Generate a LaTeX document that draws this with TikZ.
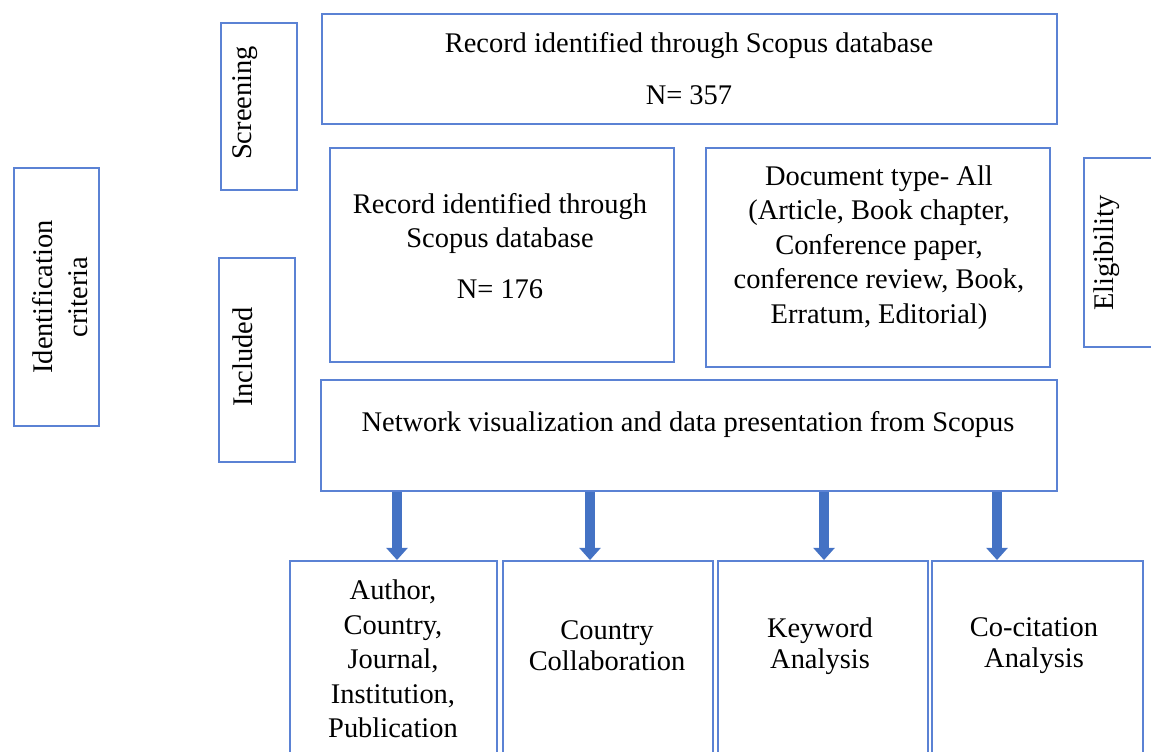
\documentclass[tikz,border=0pt]{standalone}
\usepackage{fontspec}
\setmainfont{Liberation Serif}
\usetikzlibrary{arrows.meta}
\definecolor{boxblue}{RGB}{91,130,212}
\definecolor{arrowblue}{RGB}{68,114,196}

\begin{document}
\begin{tikzpicture}[x=0.02cm,y=-0.02cm,
  box/.style={draw=boxblue,line width=1.1pt,rectangle,inner sep=0pt},
  txt/.style={align=center,inner sep=0pt,font=\fontsize{16.2}{19.7}\selectfont},
  fat/.style={draw=arrowblue,line width=6.2pt,-{Triangle[width=12pt,length=7pt]}}]
\useasboundingbox (0,0) rectangle (1151,751);

% side labels
\node[box,minimum width=1.7cm,minimum height=5.16cm] (ident) at (56.5,297) {};
\node[box,minimum width=1.52cm,minimum height=3.34cm] (screen) at (259,106.5) {};
\node[box,minimum width=1.52cm,minimum height=4.08cm] (incl) at (257,360) {};
\node[box,minimum width=1.72cm,minimum height=3.78cm] (elig) at (1127,252.5) {};

\node[txt,rotate=90] (identtxt) at (60,297) {Identification\\criteria};
\node[txt,rotate=90] (screentxt) at (245,103) {Screening};
\node[txt,rotate=90] (incltxt) at (243,357) {Included};
\node[txt,rotate=90] (eligtxt) at (1107,253) {Eligibility};

% main boxes
\node[box,minimum width=14.7cm,minimum height=2.2cm] (top) at (689.5,69) {};
\node[box,minimum width=6.88cm,minimum height=4.28cm] (rec) at (502,255) {};
\node[box,minimum width=6.88cm,minimum height=4.38cm] (doc) at (878,257.5) {};
\node[box,minimum width=14.72cm,minimum height=2.22cm] (net) at (689,435.5) {};

\node[txt] (toptxt) at (689,68.5) {Record identified through Scopus database\\[10pt]N= 357};
\node[txt] (rectxt) at (500,246) {Record identified through\\Scopus database\\[9pt]N= 176};
\node[txt] (doctxt) at (879,247.5) {Document type- All\\(Article, Book chapter,\\Conference paper,\\conference review, Book,\\Erratum, Editorial)};
\node[txt] (nettxt) at (688,424) {Network visualization and data presentation from Scopus};

% analysis boxes
\node[box,minimum width=4.14cm,minimum height=4.58cm] (b1) at (393.5,675.5) {};
\node[box,minimum width=4.2cm,minimum height=4.58cm] (b2) at (608,675.5) {};
\node[box,minimum width=4.2cm,minimum height=4.58cm] (b3) at (823,675.5) {};
\node[box,minimum width=4.22cm,minimum height=4.58cm] (b4) at (1037.5,675.5) {};

\node[txt] (b1txt) at (393,659) {Author,\\Country,\\Journal,\\Institution,\\Publication};
\node[txt,font=\fontsize{16.2}{17.6}\selectfont] (b2txt) at (607,646) {Country\\Collaboration};
\node[txt,font=\fontsize{16.2}{17.6}\selectfont] (b3txt) at (820,646) {Keyword\\Analysis};
\node[txt,font=\fontsize{16.2}{17.6}\selectfont] (b4txt) at (1034,646) {Co-citation\\Analysis};

% arrows
\coordinate (a1) at (397,0);
\coordinate (a2) at (590,0);
\coordinate (a3) at (824,0);
\coordinate (a4) at (997,0);
\draw[fat] (a1 |- net.south) -- (a1 |- b1.north);
\draw[fat] (a2 |- net.south) -- (a2 |- b2.north);
\draw[fat] (a3 |- net.south) -- (a3 |- b3.north);
\draw[fat] (a4 |- net.south) -- (a4 |- b4.north);
\end{tikzpicture}
\end{document}
